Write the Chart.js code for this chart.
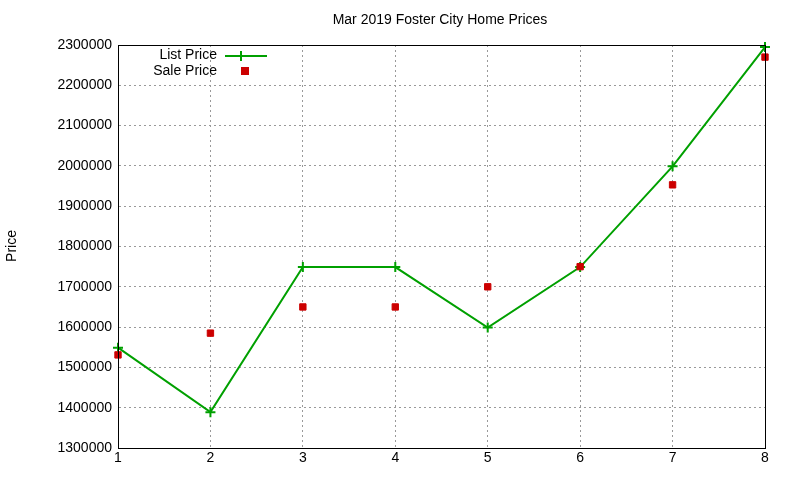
<!DOCTYPE html>
<html><head><meta charset="utf-8">
<script src="https://cdn.jsdelivr.net/npm/chart.js@4"></script>
<style>body{margin:0;background:#fff}#w{width:800px;height:480px}</style>
</head><body><div id="w"><canvas id="c"></canvas></div>
<script>
const months=[1,2,3,4,5,6,7,8];
const listPrice=[1549000,1389000,1749000,1749000,1599000,1749000,1999000,2295000];
const salePrice=[1531000,1585000,1650000,1650000,1700000,1750000,1953000,2270000];
const yTicks=[1300000,1400000,1500000,1600000,1700000,1800000,1900000,2000000,2100000,2200000,2300000];
const F="'Liberation Sans', Arial, sans-serif";
const deco={id:'deco',afterDraw(ch){const x=ch.ctx,a=ch.chartArea;x.save();
x.strokeStyle='#000';x.lineWidth=1;x.strokeRect(a.left+0.5,a.top+0.5,a.right-a.left,a.bottom-a.top);
x.fillStyle='#000';x.font='14px '+F;x.textAlign='center';x.textBaseline='middle';
x.fillText('Mar 2019 Foster City Home Prices',440,20);
x.textAlign='right';x.fillText('List Price',217,55);x.fillText('Sale Price',217,71);
x.strokeStyle='#00a000';x.lineWidth=2;x.beginPath();x.moveTo(225,56);x.lineTo(267,56);x.stroke();
x.beginPath();x.moveTo(241,51);x.lineTo(241,61);x.moveTo(236,56);x.lineTo(246,56);x.stroke();
x.fillStyle='#cc0000';x.fillRect(241,67,8,8);
x.translate(12,246);x.rotate(-Math.PI/2);x.fillStyle='#000';x.textAlign='center';x.fillText('Price',0,0);
x.restore();}};
new Chart(document.getElementById('c'),{type:'scatter',
data:{datasets:[
{label:'List Price',order:1,clip:false,data:months.map((m,i)=>({x:m,y:listPrice[i]})),showLine:true,borderColor:'#00a000',backgroundColor:'#00a000',borderWidth:2,pointStyle:'cross',pointRadius:5,pointBorderWidth:2},
{label:'Sale Price',order:0,clip:false,data:months.map((m,i)=>({x:m,y:salePrice[i]})),borderColor:'#cc0000',backgroundColor:'#cc0000',pointStyle:'rect',pointRadius:4.5}]},
options:{responsive:true,maintainAspectRatio:false,animation:false,
layout:{padding:{top:45,right:35,left:0,bottom:0}},
plugins:{legend:{display:false},tooltip:{enabled:false}},
scales:{
x:{type:'linear',min:1,max:8,afterFit(s){s.height=32},ticks:{stepSize:1,color:'#000',font:{family:F,size:14},padding:2},grid:{color:'#999',tickLength:0},border:{dash:[2,3],color:'#000'}},
y:{min:1300000,max:2300000,afterFit(s){s.width=118},afterBuildTicks(s){s.ticks=yTicks.map(v=>({value:v}))},ticks:{color:'#000',font:{family:F,size:14},padding:6,callback:v=>String(v)},grid:{color:'#999',tickLength:0},border:{dash:[2,3],color:'#000'}}}},
plugins:[deco]});
</script></body></html>
